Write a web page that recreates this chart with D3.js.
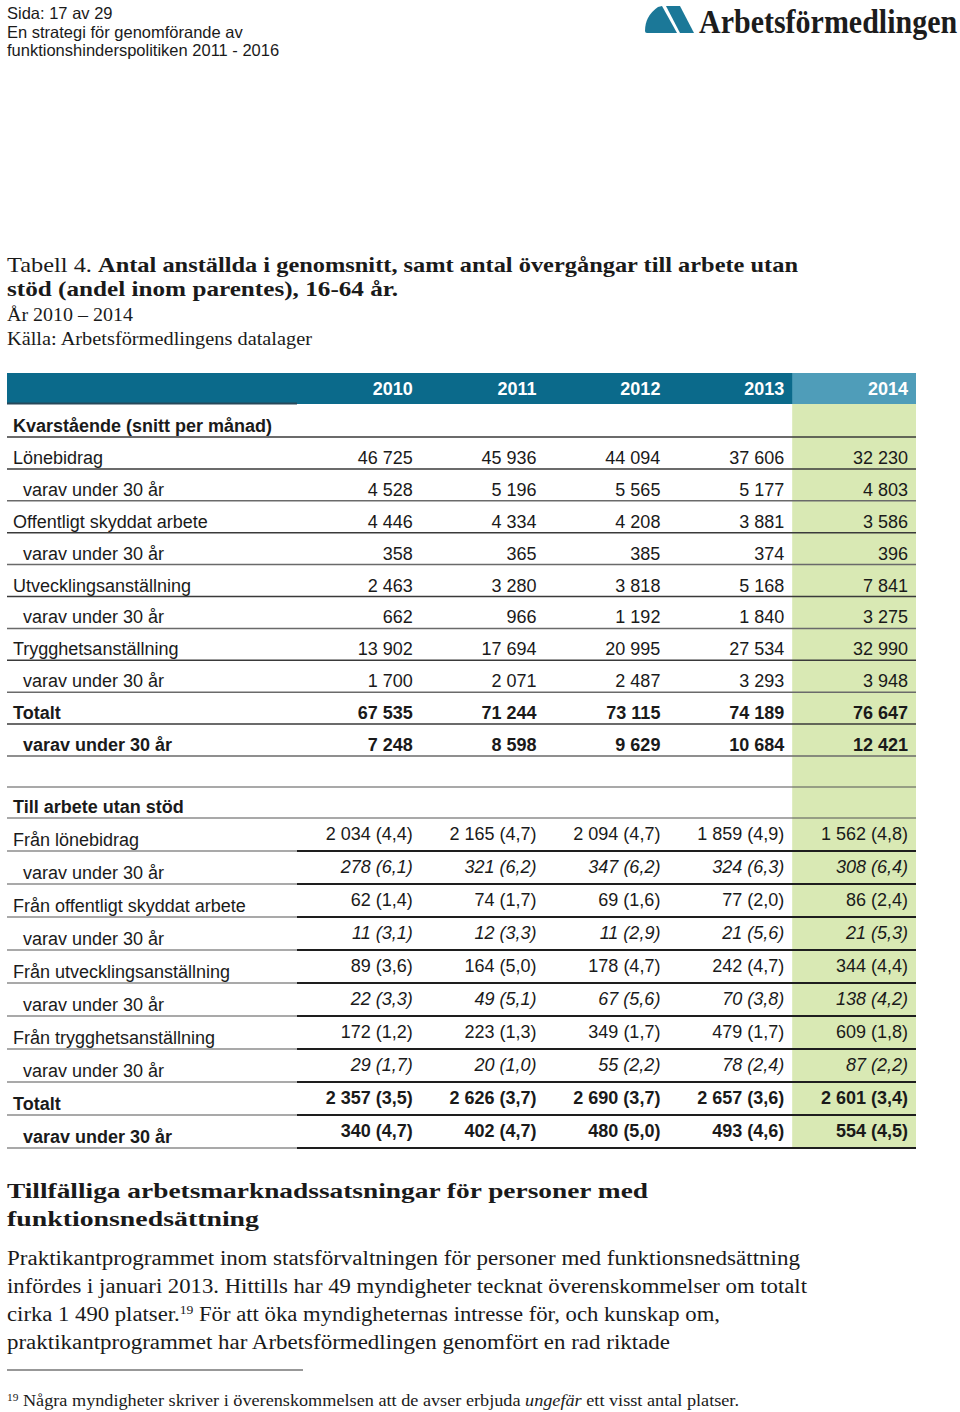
<!DOCTYPE html>
<html><head><meta charset="utf-8">
<script src="https://cdn.jsdelivr.net/npm/d3@7"></script>
<style>html,body{margin:0;padding:0;background:#fff;} svg{display:block}</style>
</head><body><svg id="c" width="960" height="1412"></svg>
<script>
// ---------- DATA ----------
const years = ["2010", "2011", "2012", "2013", "2014"];

const kvarRows = ["Lönebidrag", "varav under 30 år", "Offentligt skyddat arbete", "varav under 30 år",
  "Utvecklingsanställning", "varav under 30 år", "Trygghetsanställning", "varav under 30 år",
  "Totalt", "varav under 30 år"];
const kv2010 = [46725, 4528, 4446, 358, 2463, 662, 13902, 1700, 67535, 7248];
const kv2011 = [45936, 5196, 4334, 365, 3280, 966, 17694, 2071, 71244, 8598];
const kv2012 = [44094, 5565, 4208, 385, 3818, 1192, 20995, 2487, 73115, 9629];
const kv2013 = [37606, 5177, 3881, 374, 5168, 1840, 27534, 3293, 74189, 10684];
const kv2014 = [32230, 4803, 3586, 396, 7841, 3275, 32990, 3948, 76647, 12421];

const overRows = ["Från lönebidrag", "varav under 30 år", "Från offentligt skyddat arbete", "varav under 30 år",
  "Från utvecklingsanställning", "varav under 30 år", "Från trygghetsanställning", "varav under 30 år",
  "Totalt", "varav under 30 år"];
const ov2010 = [2034, 278, 62, 11, 89, 22, 172, 29, 2357, 340];
const ov2011 = [2165, 321, 74, 12, 164, 49, 223, 20, 2626, 402];
const ov2012 = [2094, 347, 69, 11, 178, 67, 349, 55, 2690, 480];
const ov2013 = [1859, 324, 77, 21, 242, 70, 479, 78, 2657, 493];
const ov2014 = [1562, 308, 86, 21, 344, 138, 609, 87, 2601, 554];
const sh2010 = [4.4, 6.1, 1.4, 3.1, 3.6, 3.3, 1.2, 1.7, 3.5, 4.7];
const sh2011 = [4.7, 6.2, 1.7, 3.3, 5.0, 5.1, 1.3, 1.0, 3.7, 4.7];
const sh2012 = [4.7, 6.2, 1.6, 2.9, 4.7, 5.6, 1.7, 2.2, 3.7, 5.0];
const sh2013 = [4.9, 6.3, 2.0, 5.6, 4.7, 3.8, 1.7, 2.4, 3.6, 4.6];
const sh2014 = [4.8, 6.4, 2.4, 5.3, 4.4, 4.2, 1.8, 2.2, 3.4, 4.5];

const kvarByYear = {"2010": kv2010, "2011": kv2011, "2012": kv2012, "2013": kv2013, "2014": kv2014};
const ovByYear = {"2010": ov2010, "2011": ov2011, "2012": ov2012, "2013": ov2013, "2014": ov2014};
const shByYear = {"2010": sh2010, "2011": sh2011, "2012": sh2012, "2013": sh2013, "2014": sh2014};

// ---------- SETUP ----------
const svg = d3.select("#c");
const SANS = "'Liberation Sans', Arial, Helvetica, sans-serif";
const SERIF = "'Liberation Serif', 'Times New Roman', serif";
const INK = "#1a1a1a";
const loc = d3.formatLocale({decimal: ",", thousands: "\u00a0", grouping: [3], currency: ["", ""]});
const fmtInt = loc.format(",d");
const fmtPct = loc.format(".1f");

// ---------- PAGE HEADER ----------
const hdr = svg.append("g").attr("font-family", SANS).attr("font-size", 16.5).attr("fill", INK);
[["Sida: 17 av 29", 19], ["En strategi för genomförande av", 38], ["funktionshinderspolitiken 2011 - 2016", 56]]
  .forEach(([t, y]) => hdr.append("text").attr("x", 7).attr("y", y).text(t));

// logo
const logo = svg.append("g");
logo.append("path").attr("fill", "#1b7898")
  .attr("d", "M645,31 Q645,16 658,7 L662,6 L677,33 L647,33 Q645,33 645,31 Z");
logo.append("path").attr("fill", "#1b7898")
  .attr("d", "M666,6 L680,6 L694,33 L680,33 Z");
logo.append("text").attr("transform", "translate(699,33) scale(1,1.15)").attr("font-family", SERIF).attr("font-weight", "bold")
  .attr("font-size", 30).attr("fill", "#1c1c1c")
  .text("Arbetsförmedlingen");

// ---------- TITLE ----------
const ttl = svg.append("g").attr("font-family", SERIF).attr("fill", INK);
const t1 = ttl.append("text").attr("x", 7).attr("y", 272).attr("font-size", 22)
  .attr("textLength", 791).attr("lengthAdjust", "spacingAndGlyphs");
t1.append("tspan").text("Tabell 4. ");
t1.append("tspan").attr("font-weight", "bold").text("Antal anställda i genomsnitt, samt antal övergångar till arbete utan");
ttl.append("text").attr("x", 7).attr("y", 296).attr("font-size", 22).attr("font-weight", "bold")
  .attr("textLength", 391).attr("lengthAdjust", "spacingAndGlyphs")
  .text("stöd (andel inom parentes), 16-64 år.");
ttl.append("text").attr("x", 7).attr("y", 321).attr("font-size", 18)
  .attr("textLength", 126).attr("lengthAdjust", "spacingAndGlyphs").text("År 2010 – 2014");
ttl.append("text").attr("x", 7).attr("y", 345).attr("font-size", 18)
  .attr("textLength", 305).attr("lengthAdjust", "spacingAndGlyphs").text("Källa: Arbetsförmedlingens datalager");

// ---------- TABLE ----------
const xc = d3.scaleBand().domain(years).range([297, 916]);
const bw = xc.bandwidth();
const y1 = d3.scaleBand().domain(d3.range(kvarRows.length)).range([437, 756]);
const y2 = d3.scaleBand().domain(d3.range(overRows.length)).range([818, 1148]);
const lastYear = years[years.length - 1];

const tbl = svg.append("g").attr("font-family", SANS).attr("font-size", 18).attr("fill", INK);

// header bar
tbl.append("rect").attr("x", 7).attr("y", 373).attr("width", 916 - 7).attr("height", 31).attr("fill", "#0b6a8b");
tbl.append("rect").attr("x", xc(lastYear)).attr("y", 373).attr("width", bw).attr("height", 31).attr("fill", "#4f9db9");
tbl.append("line").attr("x1", 7).attr("x2", 297).attr("y1", 403.5).attr("y2", 403.5)
  .attr("stroke", "#27485a").attr("stroke-width", 2);
// highlighted column
tbl.append("rect").attr("x", xc(lastYear)).attr("y", 404).attr("width", bw).attr("height", 1148 - 404).attr("fill", "#d9e9b4");

tbl.selectAll("text.yr").data(years).join("text").attr("class", "yr")
  .attr("x", d => xc(d) + bw - 8).attr("y", 395).attr("text-anchor", "end")
  .attr("font-weight", "bold").attr("fill", "#fff").text(d => d);

// section 1
tbl.append("text").attr("x", 13).attr("y", 432).attr("font-weight", "bold").text("Kvarstående (snitt per månad)");
tbl.append("line").attr("x1", 7).attr("x2", 916).attr("y1", 437).attr("y2", 437).attr("stroke", "#3a3a3a").attr("stroke-width", 1.6);

const s1 = tbl.selectAll("g.r1").data(kvarRows).join("g").attr("class", "r1");
s1.append("text").attr("x", (d, i) => i % 2 ? 23 : 13).attr("y", (d, i) => y1(i) + y1.bandwidth() - 5)
  .attr("font-weight", (d, i) => i >= 8 ? "bold" : "normal").text(d => d);
years.forEach(yr => {
  s1.append("text").attr("x", xc(yr) + bw - 8).attr("y", (d, i) => y1(i) + y1.bandwidth() - 5)
    .attr("text-anchor", "end").attr("font-weight", (d, i) => i >= 8 ? "bold" : "normal")
    .text((d, i) => fmtInt(kvarByYear[yr][i]));
});
s1.append("line").attr("x1", 7).attr("x2", 916)
  .attr("y1", (d, i) => y1(i) + y1.bandwidth()).attr("y2", (d, i) => y1(i) + y1.bandwidth())
  .attr("stroke", (d, i) => i % 2 ? "#6a6a6a" : "#3a3a3a").attr("stroke-width", 1.5);

// section 2
tbl.append("line").attr("x1", 7).attr("x2", 916).attr("y1", 787).attr("y2", 787).attr("stroke", "#555").attr("stroke-width", 1.2);
tbl.append("text").attr("x", 13).attr("y", 813).attr("font-weight", "bold").text("Till arbete utan stöd");
tbl.append("line").attr("x1", 7).attr("x2", 916).attr("y1", 818).attr("y2", 818).attr("stroke", "#555").attr("stroke-width", 1.2);

const s2 = tbl.selectAll("g.r2").data(overRows).join("g").attr("class", "r2");
s2.append("text").attr("x", (d, i) => i % 2 ? 23 : 13).attr("y", (d, i) => y2(i) + y2.bandwidth() - 5)
  .attr("font-weight", (d, i) => i >= 8 ? "bold" : "normal").text(d => d);
years.forEach(yr => {
  s2.append("text").attr("x", xc(yr) + bw - 8).attr("y", (d, i) => y2(i) + y2.bandwidth() - 11)
    .attr("text-anchor", "end")
    .attr("font-weight", (d, i) => i >= 8 ? "bold" : "normal")
    .attr("font-style", (d, i) => (i % 2 && i < 8) ? "italic" : "normal")
    .text((d, i) => `${fmtInt(ovByYear[yr][i])} (${fmtPct(shByYear[yr][i])})`);
});
s2.append("line").attr("x1", 7).attr("x2", 297)
  .attr("y1", (d, i) => y2(i) + y2.bandwidth()).attr("y2", (d, i) => y2(i) + y2.bandwidth())
  .attr("stroke", "#555").attr("stroke-width", 1.1);
s2.append("line").attr("x1", 297).attr("x2", 916)
  .attr("y1", (d, i) => y2(i) + y2.bandwidth()).attr("y2", (d, i) => y2(i) + y2.bandwidth())
  .attr("stroke", "#1e1e1e").attr("stroke-width", 2.2);

// ---------- BODY TEXT ----------
const body = svg.append("g").attr("font-family", SERIF).attr("fill", INK);
body.append("text").attr("x", 7).attr("y", 1198).attr("font-size", 22).attr("font-weight", "bold")
  .attr("textLength", 641).attr("lengthAdjust", "spacingAndGlyphs")
  .text("Tillfälliga arbetsmarknadssatsningar för personer med");
body.append("text").attr("x", 7).attr("y", 1226).attr("font-size", 22).attr("font-weight", "bold")
  .attr("textLength", 252).attr("lengthAdjust", "spacingAndGlyphs")
  .text("funktionsnedsättning");

const para = [
  ["Praktikantprogrammet inom statsförvaltningen för personer med funktionsnedsättning", 793],
  ["infördes i januari 2013. Hittills har 49 myndigheter tecknat överenskommelser om totalt", 800],
  null,
  ["praktikantprogrammet har Arbetsförmedlingen genomfört en rad riktade", 663]
];
para.forEach((p, i) => {
  if (!p) return;
  body.append("text").attr("x", 7).attr("y", 1265 + i * 28).attr("font-size", 20)
    .attr("textLength", p[1]).attr("lengthAdjust", "spacingAndGlyphs").text(p[0]);
});
const p3 = body.append("text").attr("x", 7).attr("y", 1265 + 2 * 28).attr("font-size", 20)
  .attr("textLength", 713).attr("lengthAdjust", "spacingAndGlyphs");
p3.append("tspan").text("cirka 1 490 platser.");
p3.append("tspan").attr("font-size", 12).attr("dy", -7).text("19");
p3.append("tspan").attr("dy", 7).text(" För att öka myndigheternas intresse för, och kunskap om,");

body.append("line").attr("x1", 7).attr("x2", 303).attr("y1", 1370).attr("y2", 1370).attr("stroke", "#333").attr("stroke-width", 1.2);
const fn = body.append("text").attr("x", 7).attr("y", 1406).attr("font-size", 16)
  .attr("textLength", 732).attr("lengthAdjust", "spacingAndGlyphs");
fn.append("tspan").attr("font-size", 10).attr("dy", -5).text("19");
fn.append("tspan").attr("dy", 5).text(" Några myndigheter skriver i överenskommelsen att de avser erbjuda ");
fn.append("tspan").attr("font-style", "italic").text("ungefär");
fn.append("tspan").text(" ett visst antal platser.");
</script></body></html>
